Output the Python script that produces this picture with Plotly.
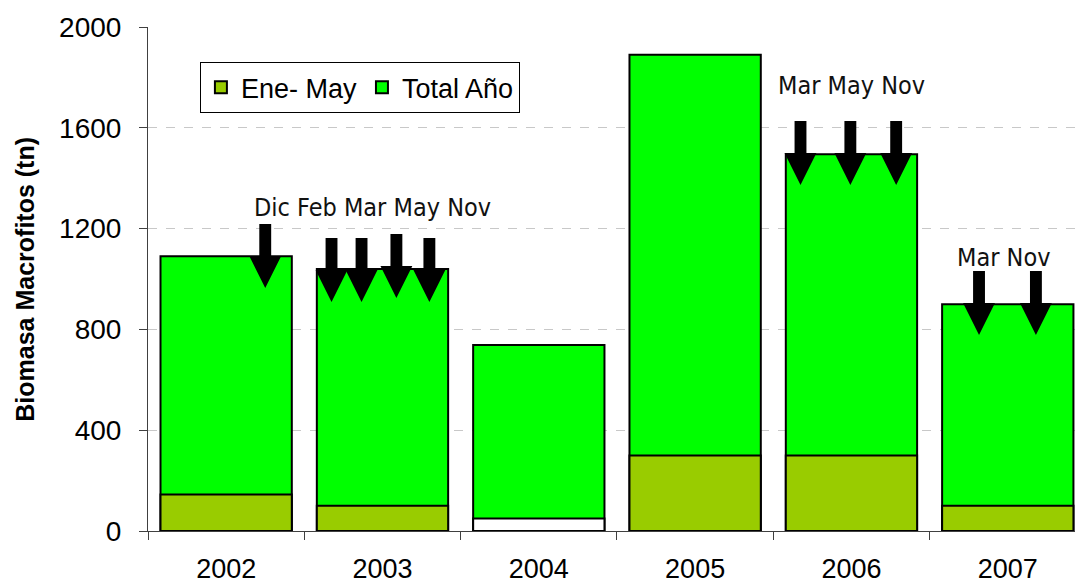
import plotly.graph_objects as go

# Biomass of macrophytes per year (tn)
years = ["2002", "2003", "2004", "2005", "2006", "2007"]
total_anio = [1090, 1040, 738, 1890, 1495, 900]
ene_may = [145, 100, 50, 300, 300, 100]
ene_may_colors = ["#99CC00", "#99CC00", "#FFFFFF", "#99CC00", "#99CC00", "#99CC00"]

# Harvest-event arrows: x in category units, tip value in tn
arrow_x = [0.25, 0.674, 0.866, 1.089, 1.30, 3.674, 3.993, 4.286, 4.816, 5.18]
arrow_tip = [964, 909, 909, 925, 909, 1373, 1373, 1373, 778, 778]

# Month labels above the arrows
label_text = ["Dic Feb Mar May Nov", "Mar May Nov", "Mar Nov"]
label_x = [0.936, 4.0, 4.97]
label_y = [1282, 1766, 1087]

FONT = "Liberation Sans, Arial, sans-serif"
NARROW = "Liberation Sans Narrow, Arial Narrow, DejaVu Sans Condensed, sans-serif"

fig = go.Figure()
fig.add_trace(go.Bar(
    x=years, y=total_anio, name="Total Año", width=0.84,
    marker=dict(color="#00FF00", line=dict(color="black", width=2)),
    legendrank=2,
))
fig.add_trace(go.Bar(
    x=years, y=ene_may, name="Ene- May", width=0.84,
    marker=dict(color=ene_may_colors, line=dict(color="black", width=2)),
    legendrank=1,
))

# Block arrows drawn as filled paths
head_len = 127
shaft_len = 127
head_hw = 0.102
shaft_hw = 0.038
shapes = []
for ax_, tip in zip(arrow_x, arrow_tip):
    base = tip + head_len
    top = base + shaft_len
    path = (f"M{ax_ - shaft_hw},{top} L{ax_ + shaft_hw},{top} L{ax_ + shaft_hw},{base} "
            f"L{ax_ + head_hw},{base} L{ax_},{tip} L{ax_ - head_hw},{base} "
            f"L{ax_ - shaft_hw},{base} Z")
    shapes.append(dict(type="path", path=path, xref="x", yref="y",
                       fillcolor="black", line=dict(width=0), layer="above"))

annotations = [
    dict(x=lx, y=ly, xref="x", yref="y", text=t, showarrow=False,
         xanchor="center", yanchor="middle",
         font=dict(family=NARROW, size=25, color="#111111"))
    for t, lx, ly in zip(label_text, label_x, label_y)
]
annotations.append(dict(
    x=-0.133, y=0.5, xref="paper", yref="paper", text="<b>Biomasa Macrofitos (tn)</b>",
    textangle=-90, showarrow=False, xanchor="center", yanchor="middle",
    font=dict(family=FONT, size=25, color="black"),
))

fig.update_layout(
    width=1075, height=585,
    margin=dict(l=148, r=0, t=27, b=54),
    paper_bgcolor="white", plot_bgcolor="white",
    barmode="overlay",
    font=dict(family=FONT, color="black"),
    shapes=shapes,
    annotations=annotations,
    legend=dict(
        orientation="h", x=0.056, y=0.93, xanchor="left", yanchor="top",
        bgcolor="white", bordercolor="black", borderwidth=1,
        font=dict(family=FONT, size=27, color="black"),
        itemclick=False, tracegroupgap=0,
    ),
    xaxis=dict(
        type="category", range=[-0.5, 5.43], tickson="boundaries",
        showline=True, linecolor="#404040", linewidth=1,
        ticks="outside", ticklen=8, tickcolor="#404040",
        showgrid=False, ticklabelstandoff=14, automargin=False,
        tickfont=dict(family=FONT, size=27, color="black"),
    ),
    yaxis=dict(
        range=[0, 2000], tickvals=[0, 400, 800, 1200, 1600, 2000],
        showline=True, linecolor="#404040", linewidth=1,
        ticks="outside", ticklen=8, tickcolor="#404040",
        showgrid=True, gridcolor="#C8C8C8", griddash="dash", gridwidth=1,
        zeroline=False, ticklabelstandoff=12, automargin=False,
        tickfont=dict(family=FONT, size=28, color="black"),
    ),
)

fig.write_html("out.html")
